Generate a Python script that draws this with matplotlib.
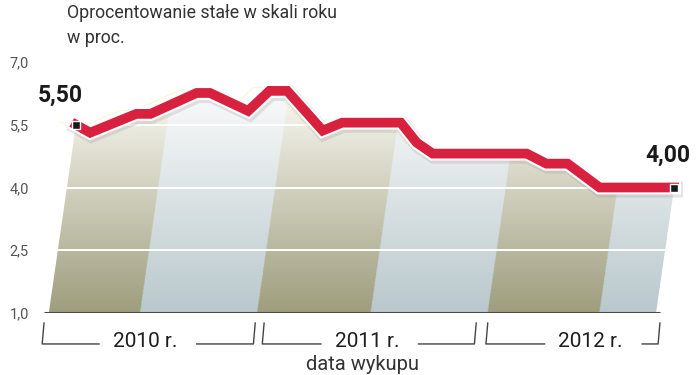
import numpy as np
import matplotlib
matplotlib.use("Agg")
import matplotlib.pyplot as plt
import matplotlib.patheffects as pe
from matplotlib.patches import Polygon

# dane: miesiace od stycznia 2010, oprocentowanie w proc.
months = [1.8, 2.6, 5.2, 6.0, 8.6, 9.35, 11.5, 12.7, 13.7, 15.7, 16.8,
          20.1, 21.0, 21.9, 27.2, 28.3, 29.5, 31.3, 35.5]
rate = [5.50, 5.31, 5.76, 5.76, 6.26, 6.26, 5.83, 6.31, 6.31, 5.36, 5.55,
        5.55, 5.07, 4.81, 4.81, 4.57, 4.57, 4.00, 4.00]

yticks = [1.0, 2.5, 4.0, 5.5, 7.0]
ytick_labels = ["1,0", "2,5", "4,0", "5,5", "7,0"]

years = ["2010 r.", "2011 r.", "2012 r."]
year_start = [0.0, 12.4, 25.0]
year_end = [11.9, 24.35, 34.7]
year_label_x = [5.7, 18.2, 30.8]

stripe_bounds = [5.4, 12.0, 18.4, 25.0, 31.3]

title1 = "Oprocentowanie stałe w skali roku"
title2 = "w proc."
xlabel = "data wykupu"
first_label = "5,50"
last_label = "4,00"

plt.rcParams["font.family"] = ["Roboto", "DejaVu Sans"]

skew = 0.34  # przesuniecie pasow w miesiacach na 1 pkt proc.

fig = plt.figure(figsize=(6.99, 3.75), dpi=100)
ax = fig.add_axes([44 / 699, 62 / 375, 639 / 699, 251 / 375])
ax.set_xlim(0, 36)
ax.set_ylim(1, 7)

# obszar pod linia (pochylony)
poly_pts = list(zip(months, rate))
poly_pts.append((months[-1] - skew * (rate[-1] - 1), 1.0))
poly_pts.append((months[0] - skew * (rate[0] - 1), 1.0))
poly = Polygon(poly_pts, closed=True, facecolor="none", edgecolor="none")
ax.add_patch(poly)

xs = np.linspace(0, 36, 1200)
ys = np.linspace(1, 7, 500)
X, Y = np.meshgrid(xs, ys)
U = X - skew * (Y - 1)
idx = np.searchsorted(stripe_bounds, U)
t = np.clip((Y - 1) / 5.0, 0, 1)[..., None]
olive_bot = np.array([0x9e, 0x9d, 0x7d]) / 255
olive_top = np.array([0xf4, 0xf4, 0xec]) / 255
blue_bot = np.array([0xb9, 0xc8, 0xcc]) / 255
blue_top = np.array([0xf6, 0xf8, 0xf8]) / 255
olive = olive_bot + (olive_top - olive_bot) * t
blue = blue_bot + (blue_top - blue_bot) * t
img = np.where((idx % 2 == 0)[..., None], olive, blue)
im = ax.imshow(img, extent=(0, 36, 1, 7), origin="lower", aspect="auto",
               interpolation="bilinear", zorder=1)
im.set_clip_path(poly)

for v in yticks[1:-1]:
    ax.axhline(v, color="white", lw=1.4, zorder=2)
ax.plot([0, 34.7], [1, 1], color="#4a4a4a", lw=2.2, zorder=3,
        solid_capstyle="butt")

# slabszy zolty obrys
ax.plot(np.array(months) - 0.9, np.array(rate) + 0.08, color="#f2eec0",
        lw=0.8, alpha=0.6, zorder=3)

ax.plot(months, rate, color="#d8203f", lw=7, zorder=5,
        solid_joinstyle="miter",
        path_effects=[pe.SimpleLineShadow(offset=(1, -1.5), shadow_color="#999999",
                                          alpha=0.25, linewidth=11.5),
                      pe.Stroke(linewidth=10, foreground="white"),
                      pe.Normal()])
ax.plot([months[0], months[-1]], [rate[0], rate[-1]], "s", color="#1a1a1a",
        ms=5.5, mec="white", mew=1, zorder=6)

ax.text(2.2, 6.2, first_label, ha="right", va="center", fontsize=16.5,
        fontweight="bold", color="#1a1a1a")
ax.text(36.4, 4.78, last_label, ha="right", va="center", fontsize=16.5,
        fontweight="bold", color="#1a1a1a")

ax.set_yticks(yticks)
ax.set_yticklabels(ytick_labels, color="#555555", fontsize=10.5)
ax.set_xticks([])
ax.tick_params(axis="y", length=0, pad=11)
for s in ax.spines.values():
    s.set_visible(False)

# klamry lat
y_top, y_line, y_txt = 0.76, 0.26, 0.31
for lab, a, b, cx in zip(years, year_start, year_end, year_label_x):
    da = skew * (y_top - y_line) * 0.6
    ax.plot([a, a - da, cx - 2.6], [y_top, y_line, y_line], color="#444444",
            lw=1, clip_on=False)
    ax.plot([cx + 2.9, b - da, b], [y_line, y_line, y_top], color="#444444",
            lw=1, clip_on=False)
    ax.text(cx, y_txt, lab, ha="center", va="center", fontsize=15,
            color="#1e1e1e", clip_on=False)

fig.text(362 / 699, 1 - 365 / 375, xlabel, ha="center", va="center",
         fontsize=14.5, color="#333333")
fig.text(67 / 699, 1 - 18 / 375, title1, ha="left", va="baseline",
         fontsize=12.8, color="#333333")
fig.text(67 / 699, 1 - 43 / 375, title2, ha="left", va="baseline",
         fontsize=12.8, color="#333333")

fig.savefig("out.png", dpi=100)
